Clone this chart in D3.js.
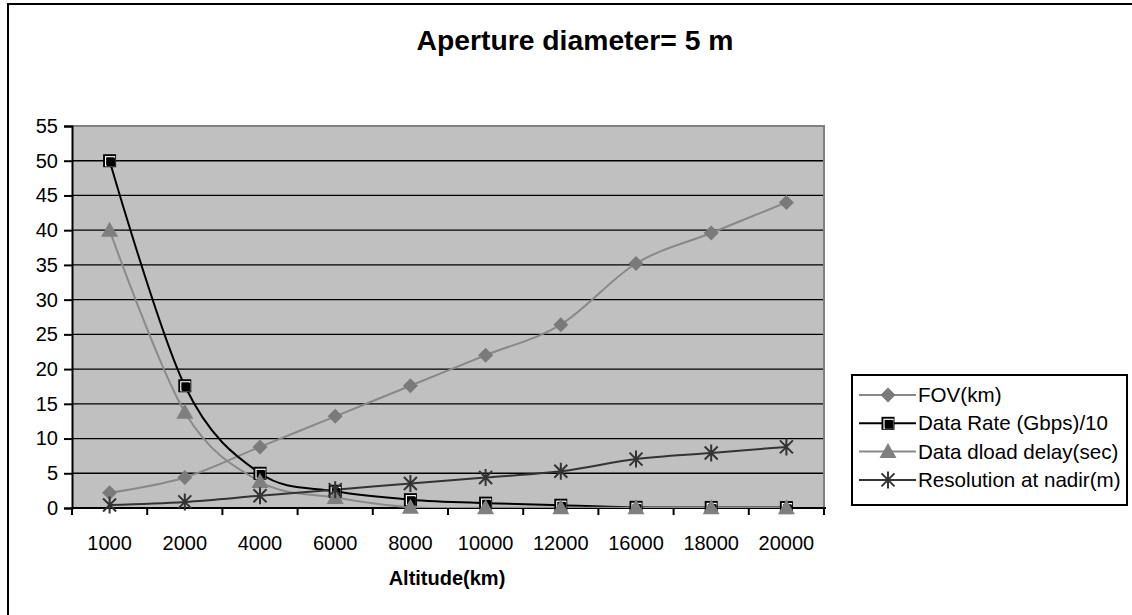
<!DOCTYPE html>
<html>
<head>
<meta charset="utf-8">
<script src="https://cdn.jsdelivr.net/npm/d3@7"></script>
<style>
  html, body { margin: 0; padding: 0; background: #fff; }
  svg { display: block; font-family: "Liberation Sans", Arial, sans-serif; }
</style>
</head>
<body>
<svg id="chart" width="1132" height="615"></svg>
<script>
// Altitude categories and series values
const altitudes = ["1000", "2000", "4000", "6000", "8000", "10000", "12000", "16000", "18000", "20000"];
const fov = [2.2, 4.4, 8.8, 13.2, 17.6, 22, 26.4, 35.2, 39.6, 44];
const dataRate = [50, 17.6, 5.0, 2.4, 1.2, 0.7, 0.4, 0.1, 0.08, 0.06];
const dloadDelay = [40, 13.8, 3.8, 1.5, 0.1, 0.05, 0.03, 0.02, 0.02, 0.02];
const resolution = [0.44, 0.88, 1.76, 2.64, 3.52, 4.4, 5.28, 7.04, 7.92, 8.8];
const yTicks = [0, 5, 10, 15, 20, 25, 30, 35, 40, 45, 50, 55];
const seriesNames = ["FOV(km)", "Data Rate (Gbps)/10", "Data dload delay(sec)", "Resolution at nadir(m)"];

const svg = d3.select("#chart");

// Outer chart frame (continues past the right and bottom edges)
svg.append("rect")
  .attr("x", 8).attr("y", 4)
  .attr("width", 1140).attr("height", 630)
  .attr("fill", "none").attr("stroke", "#000").attr("stroke-width", 2);

const plot = { left: 72, top: 126, right: 824, bottom: 508 };

const x = d3.scaleBand().domain(altitudes).range([plot.left, plot.right]);
const y = d3.scaleLinear().domain([0, 55]).range([plot.bottom, plot.top]);

// Plot background
svg.append("rect")
  .attr("x", plot.left).attr("y", plot.top)
  .attr("width", plot.right - plot.left).attr("height", plot.bottom - plot.top)
  .attr("fill", "#c0c0c0");

// Horizontal gridlines
svg.append("g").selectAll("line")
  .data(yTicks.filter(d => d > 0 && d < 55))
  .join("line")
  .attr("x1", plot.left).attr("x2", plot.right)
  .attr("y1", d => y(d)).attr("y2", d => y(d))
  .attr("stroke", "#000").attr("stroke-width", 1.3);

// Plot area border on top and right
svg.append("path")
  .attr("d", `M${plot.left},${plot.top}H${plot.right}V${plot.bottom}`)
  .attr("fill", "none").attr("stroke", "#808080").attr("stroke-width", 2);

// Title
svg.append("text")
  .attr("x", 575).attr("y", 50)
  .attr("text-anchor", "middle")
  .attr("font-size", 28.3).attr("font-weight", "bold")
  .text("Aperture diameter= 5 m");

// Y axis
const yAxis = d3.axisLeft(y).tickValues(yTicks).tickSize(8).tickPadding(6);
const gy = svg.append("g").attr("transform", `translate(${plot.left},0)`).call(yAxis);
gy.select(".domain").attr("stroke", "#000").attr("stroke-width", 2);
gy.selectAll(".tick line").attr("stroke", "#000").attr("stroke-width", 2);
gy.selectAll(".tick text").attr("font-size", 20).attr("fill", "#000")
  .attr("font-family", "Liberation Sans, Arial, sans-serif");

// X axis with ticks on category boundaries
const gx = svg.append("g").attr("transform", `translate(0,${plot.bottom})`);
gx.append("line")
  .attr("x1", plot.left).attr("x2", plot.right + 2)
  .attr("stroke", "#000").attr("stroke-width", 2);
const bounds = altitudes.map(a => x(a)).concat([x(altitudes[altitudes.length - 1]) + x.bandwidth()]);
gx.selectAll(".bt").data(bounds).join("line")
  .attr("class", "bt")
  .attr("x1", d => d).attr("x2", d => d)
  .attr("y1", 0).attr("y2", 7)
  .attr("stroke", "#000").attr("stroke-width", 2);
gx.selectAll(".lbl").data(altitudes).join("text")
  .attr("class", "lbl")
  .attr("x", d => x(d) + x.bandwidth() / 2)
  .attr("y", 42)
  .attr("text-anchor", "middle")
  .attr("font-size", 20)
  .text(d => d);

svg.append("text")
  .attr("x", 447).attr("y", 585)
  .attr("text-anchor", "middle")
  .attr("font-size", 20).attr("font-weight", "bold")
  .text("Altitude(km)");

// Series drawing
const cx = i => x(altitudes[i]) + x.bandwidth() / 2;

svg.append("clipPath").attr("id", "plotClip")
  .append("rect")
  .attr("x", plot.left).attr("y", plot.top - 10)
  .attr("width", plot.right - plot.left).attr("height", plot.bottom - plot.top + 10);

const line = d3.line()
  .x((d, i) => cx(i))
  .y(d => y(d))
  .curve(d3.curveCatmullRom.alpha(0));

const series = [
  { name: seriesNames[0], values: fov, color: "#888888", mark: "#7a7a7a", shape: "diamond" },
  { name: seriesNames[1], values: dataRate, color: "#000000", mark: "#000", shape: "square" },
  { name: seriesNames[2], values: dloadDelay, color: "#8a8a8a", mark: "#7f7f7f", shape: "triangle" },
  { name: seriesNames[3], values: resolution, color: "#333333", mark: "#333", shape: "star" }
];

function drawMarker(g, shape, color) {
  if (shape === "diamond") {
    g.append("path").attr("d", "M0,-7.5L7.5,0L0,7.5L-7.5,0Z").attr("fill", color);
  } else if (shape === "square") {
    g.append("rect").attr("x", -6.5).attr("y", -6.5).attr("width", 13).attr("height", 13)
      .attr("fill", "#000");
    g.append("rect").attr("x", -4).attr("y", -4).attr("width", 9).attr("height", 9)
      .attr("fill", "none").attr("stroke", "#fff").attr("stroke-width", 1.2);
    g.append("rect").attr("x", -3).attr("y", -3).attr("width", 8.5).attr("height", 8.5)
      .attr("fill", "#000");
  } else if (shape === "triangle") {
    g.append("path").attr("d", "M0,-8.5L8.5,6.5L-8.5,6.5Z").attr("fill", color);
  } else if (shape === "star") {
    g.append("path").attr("d", "M-6.5,-6.5L6.5,6.5M-6.5,6.5L6.5,-6.5M0,-8.5V8.5")
      .attr("stroke", color).attr("stroke-width", 2).attr("fill", "none");
  }
}

const linesG = svg.append("g").attr("clip-path", "url(#plotClip)");
series.forEach(s => {
  linesG.append("path")
    .datum(s.values)
    .attr("d", line)
    .attr("fill", "none")
    .attr("stroke", s.color)
    .attr("stroke-width", 2);
});
series.forEach(s => {
  s.values.forEach((v, i) => {
    const g = svg.append("g").attr("transform", `translate(${cx(i)},${y(v)})`);
    drawMarker(g, s.shape, s.mark);
  });
});

// Legend
const legend = svg.append("g");
legend.append("rect")
  .attr("x", 852).attr("y", 375).attr("width", 275).attr("height", 130)
  .attr("fill", "#fff").attr("stroke", "#000").attr("stroke-width", 2);
series.forEach((s, i) => {
  const ly = 395 + i * 28.3;
  legend.append("line")
    .attr("x1", 859).attr("x2", 916).attr("y1", ly).attr("y2", ly)
    .attr("stroke", s.color).attr("stroke-width", 2);
  const g = legend.append("g").attr("transform", `translate(888,${ly})`);
  drawMarker(g, s.shape, s.mark);
  legend.append("text")
    .attr("x", 918).attr("y", ly + 7)
    .attr("font-size", 20.6)
    .text(s.name);
});
</script>
</body>
</html>
